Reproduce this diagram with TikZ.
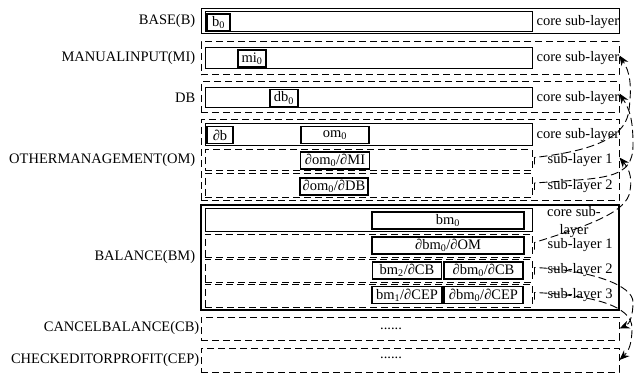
\documentclass[tikz,border=0pt]{standalone}
\usepackage{fontspec}
\setmainfont{Liberation Serif}
\usetikzlibrary{positioning,arrows.meta}
\tikzset{
  layer/.style={draw, line width=1pt, minimum width=418pt, inner sep=0pt},
  dashlayer/.style={layer, dash pattern=on 7pt off 4pt},
  corebox/.style={draw, line width=1pt, minimum width=327pt, inner sep=0pt},
  subbox/.style={corebox, dash pattern=on 7pt off 4pt},
  cell/.style={draw, line width=1.4pt, inner sep=0pt, minimum height=17pt},
  laytext/.style={inner sep=0pt},
  tagtext/.style={inner sep=0pt},
  link/.style={dash pattern=on 8pt off 4pt, line width=0.9pt, -{Stealth[length=10pt,width=8pt]}},
}
\begin{document}
\begin{tikzpicture}[x=1pt,y=-1pt,font=\fontsize{14.5}{17}\selectfont]
\useasboundingbox (0,0) rectangle (635,377);

% Layers
\node[layer, minimum height=25pt] (base) at (410,21.5) {};
\node[dashlayer, minimum height=33pt] (mi) at (410,58.5) {};
\node[dashlayer, minimum height=31pt] (db) at (410,97.5) {};
\node[dashlayer, minimum height=81pt] (om) at (410,160.5) {};
\node[layer, line width=1.2pt, minimum height=105pt] (bm) at (410,257.5) {};
\node[dashlayer, minimum height=23pt] (cb) at (410,328.5) {};
\node[dashlayer, minimum height=24pt] (cep) at (410,360) {};

% Layer names
\node[laytext, left=5pt of base] (base-name) {BASE(B)};
\node[laytext, left=5pt of mi] (mi-name) {MANUALINPUT(MI)};
\node[laytext, left=5pt of db] (db-name) {DB};
\node[laytext, left=5pt of om] (om-name) {OTHERMANAGEMENT(OM)};
\node[laytext, left=5pt of bm] (bm-name) {BALANCE(BM)};
\node[laytext, left=1pt of cb] (cb-name) {CANCELBALANCE(CB)};
\node[laytext, left=1pt of cep] (cep-name) {CHECKEDITORPROFIT(CEP)};

% Sub-layers
\node[corebox, minimum height=20pt] (base-core) at (368.5,22) {};
\node[corebox, minimum height=21pt] (mi-core) at (368.5,58.5) {};
\node[corebox, minimum height=20pt] (db-core) at (368.5,98) {};
\node[corebox, minimum height=22pt] (om-core) at (368.5,135) {};
\node[subbox, minimum height=21pt] (om-sl1) at (368.5,160.5) {};
\node[subbox, minimum height=24pt] (om-sl2) at (368.5,186) {};
\node[corebox, minimum height=22pt] (bm-core) at (368.5,220) {};
\node[subbox, minimum height=23pt] (bm-sl1) at (368.5,245.5) {};
\node[subbox, minimum height=23pt] (bm-sl2) at (368.5,270.5) {};
\node[subbox, minimum height=23pt] (bm-sl3) at (368.5,295.5) {};

% Cells
\node[cell, minimum width=23pt] (b0) at (218.5,22.5) {b\textsubscript{0}};
\node[cell, minimum width=28pt] (mi0) at (252,58.5) {mi\textsubscript{0}};
\node[cell, minimum width=28pt] (db0) at (284,98) {db\textsubscript{0}};
\node[cell, minimum width=26pt] (pb) at (220,135) {∂b};
\node[cell, minimum width=68pt] (om0) at (335,135) {om\textsubscript{0}};
\node[cell, minimum width=69pt] (om-mi) at (335,160.5) {∂om\textsubscript{0}/∂MI};
\node[cell, minimum width=68pt] (om-db) at (334,186.5) {∂om\textsubscript{0}/∂DB};
\node[cell, minimum width=152pt] (bm0) at (448,220.5) {bm\textsubscript{0}};
\node[cell, minimum width=152pt] (bm-om) at (448,245.5) {∂bm\textsubscript{0}/∂OM};
\node[cell, minimum width=69pt] (bm-cb2) at (407,270.5) {bm\textsubscript{2}/∂CB};
\node[cell, minimum width=79pt] (bm-cb) at (483.5,270.5) {∂bm\textsubscript{0}/∂CB};
\node[cell, minimum width=70pt] (bm-cep1) at (407,295) {bm\textsubscript{1}/∂CEP};
\node[cell, minimum width=79pt] (bm-cep) at (483.5,295) {∂bm\textsubscript{0}/∂CEP};

% Sub-layer tags
\node[tagtext, right=4pt of base-core] (base-tag) {core sub-layer};
\node[tagtext, right=4pt of mi-core] (mi-tag) {core sub-layer};
\node[tagtext, right=4pt of db-core] (db-tag) {core sub-layer};
\node[tagtext, right=4pt of om-core] (om-tag) {core sub-layer};
\node[tagtext, right=15pt of om-sl1] (om-sl1-tag) {sub-layer 1};
\node[tagtext, right=15pt of om-sl2] (om-sl2-tag) {sub-layer 2};
\node[tagtext, align=center, font=\fontsize{14.5}{18}\selectfont] (bm-tag) at (574,222) {core sub-\\layer};
\node[tagtext, right=15pt of bm-sl1] (bm-sl1-tag) {sub-layer 1};
\node[tagtext, right=15pt of bm-sl2] (bm-sl2-tag) {sub-layer 2};
\node[tagtext, right=15pt of bm-sl3] (bm-sl3-tag) {sub-layer 3};

% Elided contents
\node (cb-dots) at (391,329) {......};
\node (cep-dots) at (391,358) {......};

% Dependencies
\draw[link] ([shift={(-13,4)}]om-sl1-tag.west) -- ++(0,-7) .. controls (600,150) and (626,135) .. (629,110) .. controls (632,85) and (630,72) .. ([yshift=3]mi.east);
\draw[link] ([shift={(-13,4)}]om-sl2-tag.west) -- ++(0,-7) .. controls (605,178) and (633,180) .. (633,145) .. controls (633,120) and (630,110) .. ([yshift=4]db.east);
\draw[link] ([shift={(-13,4)}]bm-sl1-tag.west) -- ++(0,-7) .. controls (580,228) and (622,215) .. (629,195) .. controls (633,180) and (630,170) .. ([yshift=3]om.east);
\draw[link] ([shift={(-13,4)}]bm-sl2-tag.west) -- ++(0,-7) .. controls (590,270) and (633,285) .. (633,302) .. controls (633,315) and (630,324) .. (cb.east);
\draw[link] ([shift={(-13,4)}]bm-sl3-tag.west) -- ++(0,-7) .. controls (590,295) and (632,305) .. (632,328) .. controls (632,345) and (628,352) .. (cep.east);
\end{tikzpicture}
\end{document}
